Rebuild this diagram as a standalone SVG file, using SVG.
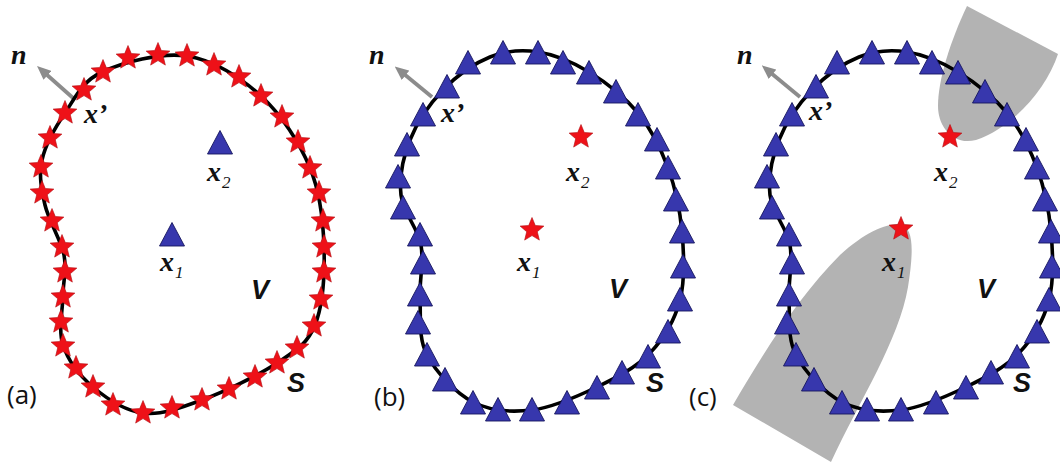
<svg xmlns="http://www.w3.org/2000/svg" xmlns:xlink="http://www.w3.org/1999/xlink" width="1060" height="462" viewBox="0 0 1060 462">
<style>
.curve{fill:none;stroke:#000;stroke-width:3.6;stroke-linejoin:round}
.star{fill:#ee1118;stroke:#b00c10;stroke-width:0.6}
.tri{fill:#3737ad;stroke:#15155e;stroke-width:0.9}
.arrow{stroke:#8c8c8c;stroke-width:3.8;fill:none}
.grey{fill:#b3b3b3}
.lbl{font-family:"Liberation Serif","Times New Roman","DejaVu Serif",serif;font-style:italic;font-weight:bold;font-size:28px;fill:#111}
.sub{font-size:17px;font-weight:normal}
.sans{font-family:"Liberation Sans",Arial,sans-serif;font-style:italic;font-weight:bold;font-size:27px;fill:#111}
.cap{font-family:"Open Sans","Liberation Sans",sans-serif;font-size:26px;fill:#111}
</style>
<defs>
<path id="star" class="star" d="M0,-12.5 L3.3,-4.5 L11.9,-3.9 L5.3,1.7 L7.35,10.1 L0,5.6 L-7.35,10.1 L-5.3,1.7 L-11.9,-3.9 L-3.3,-4.5 Z"/>
<path id="tri" class="tri" d="M0,-12.5 L12.5,11 L-12.5,11 Z"/>
<marker id="ah" markerUnits="userSpaceOnUse" markerWidth="14" markerHeight="12" refX="2" refY="6" orient="auto">
<path d="M0,0 L14,6 L0,12 Z" fill="#8c8c8c"/>
</marker>
</defs>
<rect width="1060" height="462" fill="#fff"/>

<!-- Panel (a) -->
<g id="panel-a">
<g id="arrow-a"><line class="arrow" x1="73" y1="98" x2="46" y2="74" marker-end="url(#ah)"/></g>
<path id="curve-a" class="curve" d="M187,56 C213.5,60 240.5,77.3 261,96 C281.5,114.7 299.5,142.8 310,168 C320.5,193.2 323.2,220.8 324,247 C324.8,273.2 322.8,305.7 315,325 C307.2,344.3 295.8,350.5 277,363 C258.2,375.5 224.3,391.7 202,400 C179.7,408.3 161.2,415.2 143,413 C124.8,410.8 106.3,398.3 93,387 C79.7,375.7 68,360.3 63,345 C58,329.7 62.8,310 63,295 C63.2,280 67,270 64,255 C61,240 48.7,220.8 45,205 C41.3,189.2 38.7,175.3 42,160 C45.3,144.7 55,127.7 65,113 C75,98.3 81.7,81.5 102,72 C122.3,62.5 160.5,52 187,56 Z"/>
<g id="stars-a">
<use href="#star" x="128" y="58"/><use href="#star" x="158" y="55"/><use href="#star" x="187" y="56"/><use href="#star" x="214" y="65"/><use href="#star" x="239" y="77"/><use href="#star" x="261" y="96"/><use href="#star" x="282" y="117"/><use href="#star" x="298" y="142"/><use href="#star" x="310" y="168"/><use href="#star" x="319" y="193"/><use href="#star" x="323" y="221"/><use href="#star" x="324" y="247"/><use href="#star" x="324" y="272"/><use href="#star" x="321" y="299"/><use href="#star" x="314" y="326"/><use href="#star" x="297" y="348"/><use href="#star" x="277" y="363"/><use href="#star" x="255" y="377"/><use href="#star" x="229" y="389"/><use href="#star" x="202" y="400"/><use href="#star" x="172" y="408"/><use href="#star" x="143" y="413"/><use href="#star" x="113" y="405"/><use href="#star" x="93" y="387"/><use href="#star" x="76" y="368"/><use href="#star" x="63" y="346"/><use href="#star" x="61" y="322"/><use href="#star" x="63" y="297"/><use href="#star" x="65" y="272"/><use href="#star" x="62" y="247"/><use href="#star" x="52" y="221"/><use href="#star" x="42" y="193"/><use href="#star" x="41" y="167"/><use href="#star" x="50" y="138"/><use href="#star" x="65" y="113"/><use href="#star" x="84" y="90"/><use href="#star" x="103" y="72"/>
</g>
<g id="x2-a"><use href="#tri" x="220" y="143"/></g>
<g id="x1-a"><use href="#tri" x="172" y="235"/></g>
<text class="lbl" x="11" y="64">n</text>
<text class="lbl" x="84" y="123">x’</text>
<text class="lbl" x="207" y="181">x<tspan class="sub" dx="1" dy="7">2</tspan></text>
<text class="lbl" x="160" y="271">x<tspan class="sub" dx="1" dy="7">1</tspan></text>
<text class="sans" x="251" y="299">V</text>
<text class="sans" x="287" y="392">S</text>
<text class="cap" x="7" y="404">(a)</text>
</g>

<!-- Panel (b) -->
<g id="panel-b">
<g id="arrow-b"><line class="arrow" x1="432" y1="97" x2="404" y2="74" marker-end="url(#ah)"/></g>
<g id="ring-b">
<path id="curve-b" class="curve" d="M538,52 C554.5,54.5 572.3,61.8 589,72 C605.7,82.2 624.8,97 638,113 C651.2,129 660.7,148.2 668,168 C675.3,187.8 680,210 682,232 C684,254 685.3,279.8 680,300 C674.7,320.2 663.8,338.5 650,353 C636.2,367.5 616.7,377.5 597,387 C577.3,396.5 552.7,407.5 532,410 C511.3,412.5 490.5,411.2 473,402 C455.5,392.8 435.8,372 427,355 C418.2,338 421,318.3 420,300 C419,281.7 424.2,262.5 421,245 C417.8,227.5 402.8,212.5 401,195 C399.2,177.5 403,157.5 410,140 C417,122.5 429.7,103.8 443,90 C456.3,76.2 474.2,63.3 490,57 C505.8,50.7 521.5,49.5 538,52 Z"/>
<g id="tris-b">
<use href="#tri" x="503" y="53"/><use href="#tri" x="538" y="53"/><use href="#tri" x="563" y="63"/><use href="#tri" x="589" y="73"/><use href="#tri" x="616" y="92"/><use href="#tri" x="638" y="115"/><use href="#tri" x="657" y="140"/><use href="#tri" x="668" y="168"/><use href="#tri" x="676" y="200"/><use href="#tri" x="682" y="232"/><use href="#tri" x="683" y="267"/><use href="#tri" x="680" y="300"/><use href="#tri" x="668" y="332"/><use href="#tri" x="648" y="357"/><use href="#tri" x="622" y="373"/><use href="#tri" x="597" y="388"/><use href="#tri" x="567" y="403"/><use href="#tri" x="532" y="410"/><use href="#tri" x="498" y="410"/><use href="#tri" x="473" y="403"/><use href="#tri" x="445" y="380"/><use href="#tri" x="427" y="355"/><use href="#tri" x="418" y="323"/><use href="#tri" x="420" y="295"/><use href="#tri" x="423" y="263"/><use href="#tri" x="420" y="235"/><use href="#tri" x="403" y="208"/><use href="#tri" x="398" y="177"/><use href="#tri" x="407" y="145"/><use href="#tri" x="423" y="115"/><use href="#tri" x="447" y="87"/><use href="#tri" x="468" y="63"/>
</g>
</g>
<g id="x2-b"><use href="#star" x="581" y="137"/></g>
<g id="x1-b"><use href="#star" x="532" y="230"/></g>
<text class="lbl" x="369" y="64">n</text>
<text class="lbl" x="441" y="122">x’</text>
<text class="lbl" x="566" y="181">x<tspan class="sub" dx="1" dy="7">2</tspan></text>
<text class="lbl" x="517" y="271">x<tspan class="sub" dx="1" dy="7">1</tspan></text>
<text class="sans" x="609" y="298">V</text>
<text class="sans" x="646" y="392">S</text>
<text class="cap" x="374" y="406">(b)</text>
</g>

<!-- Panel (c) -->
<g id="panel-c">
<path id="grey-upper" class="grey" d="M967,6 L1058,54 C1046,90 1012,128 976,140 C952,146 938,126 938,106 C938,80 950,42 967,6 Z"/>
<path id="grey-lower" class="grey" d="M733,405 C765,350 800,295 840,255 C864,233 884,224 900,224 C915,227 913,255 908,287 C899,340 860,400 831,462 Z"/>
<g id="arrow-c"><line class="arrow" x1="800" y1="97" x2="771" y2="73" marker-end="url(#ah)"/></g>
<use id="ring-c" href="#ring-b" x="369" y="0"/>
<g id="x2-c"><use href="#star" x="950" y="137"/></g>
<g id="x1-c"><use href="#star" x="901" y="229"/></g>
<text class="lbl" x="737" y="64">n</text>
<text class="lbl" x="809" y="120">x’</text>
<text class="lbl" x="934" y="181">x<tspan class="sub" dx="1" dy="7">2</tspan></text>
<text class="lbl" x="882" y="271">x<tspan class="sub" dx="1" dy="7">1</tspan></text>
<text class="sans" x="977" y="298">V</text>
<text class="sans" x="1013" y="392">S</text>
<text class="cap" x="689" y="406">(c)</text>
</g>
</svg>
